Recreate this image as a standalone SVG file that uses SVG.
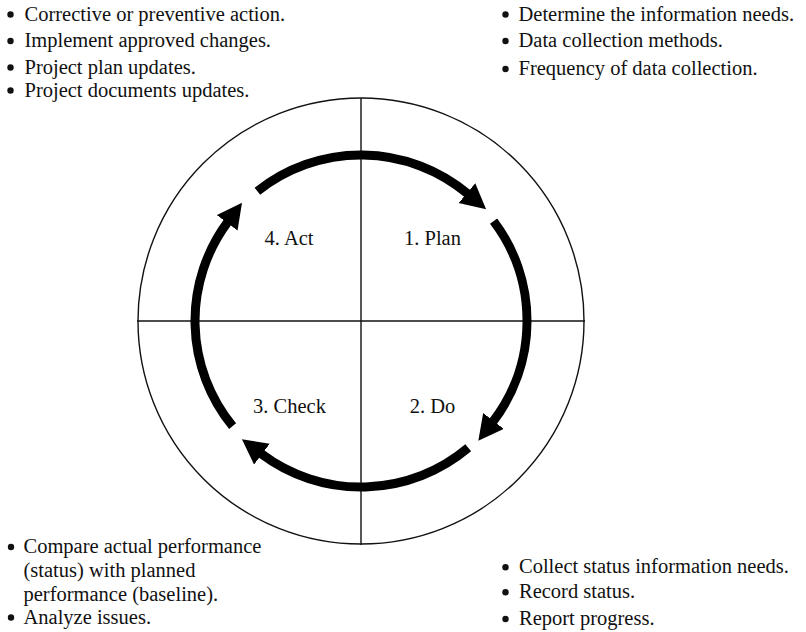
<svg xmlns="http://www.w3.org/2000/svg" width="806" height="632" viewBox="0 0 806 632">
  <style>
    text { font-family: 'Liberation Serif', 'DejaVu Serif', serif; font-size: 20.5px; fill: #111; }
    .label { text-anchor: middle; }
    .frame { fill: none; stroke: #111; stroke-width: 1.4; }
    .cycle { fill: none; stroke: #000; stroke-width: 9; stroke-linecap: butt; marker-end: url(#head); }
    .dot { fill: #111; }
  </style>
  <defs>
    <marker id="head" markerUnits="userSpaceOnUse" markerWidth="30" markerHeight="30" refX="1" refY="13" orient="auto">
      <path d="M0,0 L25,13 L0,26 z" fill="#000"/>
    </marker>
  </defs>

  <!-- outer ring split into four quadrants -->
  <g id="frame">
    <circle class="frame" cx="361" cy="321" r="223"/>
    <line class="frame" x1="361" y1="98" x2="361" y2="545"/>
    <line class="frame" x1="137" y1="321" x2="585" y2="321"/>
  </g>

  <!-- cycle arrows -->
  <g id="connectors">
    <path class="cycle" d="M257.4,191.3 A166,166 0 0 1 467.7,193.8"/>
    <path class="cycle" d="M493.6,221.1 A166,166 0 0 1 492.9,421.8"/>
    <path class="cycle" d="M468.2,447.8 A166,166 0 0 1 261.1,453.6"/>
    <path class="cycle" d="M232.6,426.1 A166,166 0 0 1 227.7,222.0"/>
  </g>

  <g id="plan"><text class="label" x="432.5" y="245">1. Plan</text></g>
  <g id="do"><text class="label" x="432.5" y="412.5">2. Do</text></g>
  <g id="check"><text class="label" x="289.5" y="412.5">3. Check</text></g>
  <g id="act"><text class="label" x="289" y="245">4. Act</text></g>

  <!-- act notes -->
  <g id="act-notes">
    <circle class="dot" cx="10.5" cy="14.5" r="3.2"/>
    <text x="24.5" y="20.5">Corrective or preventive action.</text>
    <circle class="dot" cx="10.5" cy="41" r="3.2"/>
    <text x="24.5" y="47">Implement approved changes.</text>
    <circle class="dot" cx="10.5" cy="67.5" r="3.2"/>
    <text x="24.5" y="73.5">Project plan updates.</text>
    <circle class="dot" cx="10.5" cy="90.5" r="3.2"/>
    <text x="24.5" y="96.5">Project documents updates.</text>
  </g>

  <!-- plan notes -->
  <g id="plan-notes">
    <circle class="dot" cx="505.5" cy="14.5" r="3.2"/>
    <text x="518.5" y="20.5">Determine the information needs.</text>
    <circle class="dot" cx="505.5" cy="41" r="3.2"/>
    <text x="518.5" y="47">Data collection methods.</text>
    <circle class="dot" cx="505.5" cy="69" r="3.2"/>
    <text x="518.5" y="75">Frequency of data collection.</text>
  </g>

  <!-- check notes -->
  <g id="check-notes">
    <circle class="dot" cx="11" cy="547" r="3.2"/>
    <text x="23.5" y="553">Compare actual performance</text>
    <text x="23.5" y="577">(status) with planned</text>
    <text x="23.5" y="600.5">performance (baseline).</text>
    <circle class="dot" cx="11" cy="617.5" r="3.2"/>
    <text x="23.5" y="623.5">Analyze issues.</text>
  </g>

  <!-- do notes -->
  <g id="do-notes">
    <circle class="dot" cx="505.5" cy="567.3" r="3.2"/>
    <text x="519" y="573.3">Collect status information needs.</text>
    <circle class="dot" cx="505.5" cy="592.3" r="3.2"/>
    <text x="519" y="598.3">Record status.</text>
    <circle class="dot" cx="505.5" cy="619" r="3.2"/>
    <text x="519" y="625">Report progress.</text>
  </g>
</svg>
